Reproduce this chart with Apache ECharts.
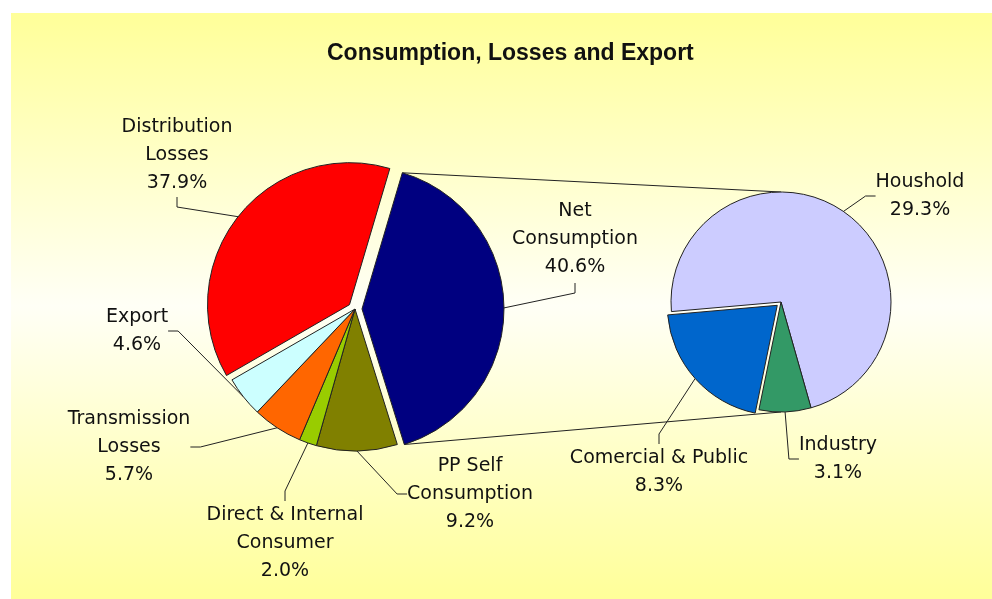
<!DOCTYPE html>
<html>
<head>
<meta charset="utf-8">
<title>Consumption, Losses and Export</title>
<script src="https://cdn.jsdelivr.net/npm/echarts@6/dist/echarts.min.js"></script>
<style>
    html, body { margin: 0; padding: 0; background: #fff; }
    #chart { width: 992px; height: 599px; }
</style>
</head>
<body>
<div id="chart"></div>
<script>
// main pie, clockwise from the exploded slice
var mainNames = ['Net\nConsumption', 'PP Self\nConsumption', 'Direct & Internal\nConsumer', 'Transmission\nLosses', 'Export', 'Distribution\nLosses'];
var mainValues = [40.6, 9.2, 2.0, 5.7, 4.6, 37.9];
var mainColors = ['#000080', '#808000', '#99cc00', '#ff6600', '#ccffff', '#ff0000'];
var mainExploded = [true, false, false, false, false, true];

// second pie = split of net consumption (values are % of the total)
var subNames = ['Houshold', 'Industry', 'Comercial & Public'];
var subValues = [29.3, 3.1, 8.3];
var subColors = ['#ccccff', '#339966', '#0066cc'];
var subExploded = [false, false, true];

// where the labels sit (centre of the text block)
var mainLabelPos = [[575, 239], [470, 494], [285, 543], [129, 447], [137, 331], [177, 155]];
var subLabelPos = [[920, 196], [838, 459], [659, 472]];

var C1 = [355, 309], R1 = 142, START1 = 73.5, OFF1 = 7;
var C2 = [781, 302], R2 = 110, START2 = 185, OFF2 = 5;

function rad(d) { return d * Math.PI / 180; }
function sum(arr) { return arr.reduce(function (a, b) { return a + b; }, 0); }

// start / end angle (degrees, echarts convention) of slice i
function sliceAngles(values, start, i) {
    var total = sum(values);
    var before = sum(values.slice(0, i));
    var a0 = start - before / total * 360;
    return [a0, a0 - values[i] / total * 360];
}

// centre of a slice pulled out along its mid angle
function shiftedCenter(c, values, start, off, i) {
    var a = sliceAngles(values, start, i);
    var m = rad((a[0] + a[1]) / 2);
    return [c[0] + off * Math.cos(m), c[1] - off * Math.sin(m)];
}

var labelStyle = {
    show: true,
    position: 'outside',
    fontFamily: 'DejaVu Sans',
    fontSize: 19,
    lineHeight: 28,
    color: '#111',
    formatter: function (p) { return p.name + '\n' + p.value.toFixed(1) + '%'; }
};
var lineStyle = { show: true, length: 10, length2: 10, lineStyle: { color: '#222', width: 1 } };

// one series per group of slices that share a centre
function pieSeries(center, radius, start, names, values, colors, show, labelPos) {
    return {
        type: 'pie',
        center: center,
        radius: radius,
        startAngle: start,
        avoidLabelOverlap: false,
        emphasis: { disabled: true },
        label: labelStyle,
        labelLine: lineStyle,
        labelLayout: function (params) {
            var i = params.dataIndex;
            if (!show[i]) return {};
            var p = labelPos[i];
            var out = { x: p[0], y: p[1], align: 'center', verticalAlign: 'middle' };
            // net consumption: leader hangs from under the label, as in the original
            if (values === mainValues && i === 0) {
                var a = sliceAngles(values, start, i);
                var m = rad((a[0] + a[1]) / 2);
                var edge = [center[0] + radius * Math.cos(m), center[1] - radius * Math.sin(m)];
                var bottom = p[1] + params.labelRect.height / 2;
                out.labelLinePoints = [edge, [p[0], bottom + 12], [p[0], bottom + 2]];
            }
            return out;
        },
        data: names.map(function (n, i) {
            if (show[i]) {
                return { name: n, value: values[i], itemStyle: { color: colors[i], borderColor: '#222', borderWidth: 1 } };
            }
            return {
                name: n, value: values[i],
                itemStyle: { color: 'rgba(0,0,0,0)', borderWidth: 0 },
                label: { show: false }, labelLine: { show: false }
            };
        })
    };
}

function explodedSeries(c, r, start, off, names, values, colors, exploded, labelPos) {
    var list = [pieSeries(c, r, start, names, values, colors,
        exploded.map(function (e) { return !e; }), labelPos)];
    exploded.forEach(function (e, i) {
        if (!e) return;
        var only = exploded.map(function (x, j) { return j === i; });
        list.push(pieSeries(shiftedCenter(c, values, start, off, i), r, start,
            names, values, colors, only, labelPos));
    });
    return list;
}

// connector lines: edges of the net consumption slice to top / bottom of the second pie
var netC = shiftedCenter(C1, mainValues, START1, OFF1, 0);
var netA = sliceAngles(mainValues, START1, 0);
var p0 = [netC[0] + R1 * Math.cos(rad(netA[0])), netC[1] - R1 * Math.sin(rad(netA[0]))];
var p1 = [netC[0] + R1 * Math.cos(rad(netA[1])), netC[1] - R1 * Math.sin(rad(netA[1]))];

var myChart = echarts.init(document.getElementById('chart'));
var option = {
    animation: false,
    backgroundColor: '#fff',
    title: {
        text: 'Consumption, Losses and Export',
        left: 327,
        top: 42,
        padding: 0,
        textStyle: { fontFamily: 'Liberation Sans', fontSize: 23, fontWeight: 'bold', color: '#111' }
    },
    graphic: [{
        type: 'rect',
        z: -100,
        silent: true,
        shape: { x: 11, y: 13, width: 981, height: 586 },
        style: {
            fill: new echarts.graphic.LinearGradient(0, 0, 0, 1, [
                { offset: 0, color: '#ffff99' },
                { offset: 0.5, color: '#fffff6' },
                { offset: 1, color: '#ffff99' }
            ])
        }
    }, {
        type: 'line',
        z: 1,
        silent: true,
        shape: { x1: p0[0], y1: p0[1], x2: C2[0], y2: C2[1] - R2 },
        style: { stroke: '#222', lineWidth: 1 }
    }, {
        type: 'line',
        z: 1,
        silent: true,
        shape: { x1: p1[0], y1: p1[1], x2: C2[0], y2: C2[1] + R2 },
        style: { stroke: '#222', lineWidth: 1 }
    }],
    series: explodedSeries(C1, R1, START1, OFF1, mainNames, mainValues, mainColors, mainExploded, mainLabelPos)
        .concat(explodedSeries(C2, R2, START2, OFF2, subNames, subValues, subColors, subExploded, subLabelPos))
};
myChart.setOption(option);
</script>
</body>
</html>
